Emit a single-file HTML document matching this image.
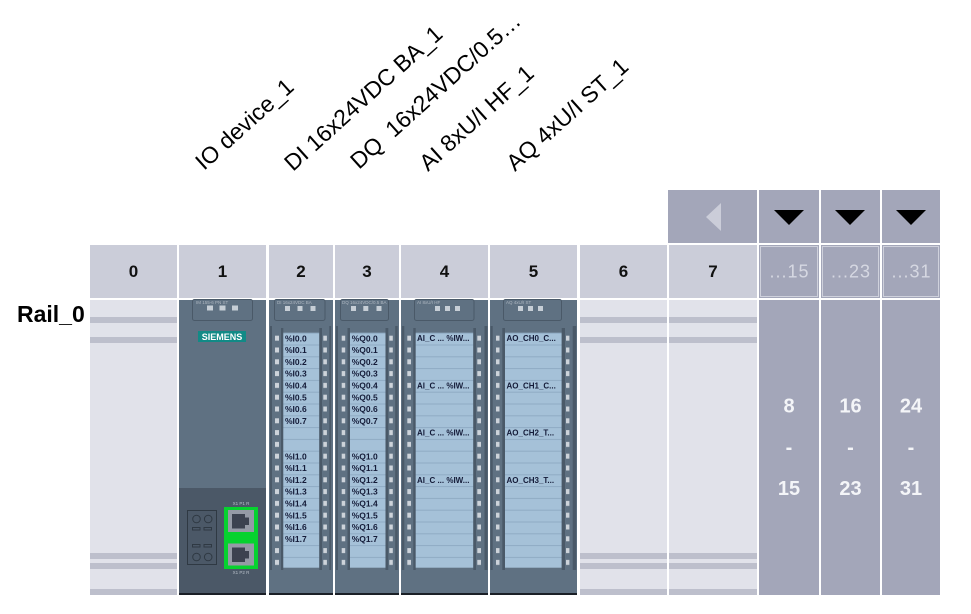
<!DOCTYPE html>
<html><head><meta charset="utf-8">
<style>
*{margin:0;padding:0}
html,body{width:971px;height:614px;background:#fff;overflow:hidden}
svg{display:block}
</style></head>
<body>
<svg xmlns="http://www.w3.org/2000/svg" width="971" height="614" viewBox="0 0 971 614" font-family="'Liberation Sans', sans-serif">
<defs>
<pattern id="led" x="0" y="332.7" width="10" height="11.8" patternUnits="userSpaceOnUse"><rect x="0" y="3" width="10" height="5" fill="#cdd3da"/></pattern>
<pattern id="row" x="0" y="332.7" width="10" height="11.8" patternUnits="userSpaceOnUse"><rect width="10" height="11.8" fill="#a5c1d8"/><rect width="10" height="1" fill="#8fabc4"/></pattern>
</defs>
<rect width="971" height="614" fill="#fff"/>

<!-- rotated labels -->
<g font-size="23" fill="#000">
<text transform="translate(204,171) rotate(-42)">IO device_1</text>
<text transform="translate(293,172) rotate(-42)">DI 16x24VDC BA_1</text>
<text transform="translate(359,170) rotate(-42)" xml:space="preserve">DQ  16x24VDC/0.5…</text>
<text transform="translate(428,172) rotate(-42)">AI 8xU/I HF_1</text>
<text transform="translate(515,172) rotate(-42)">AQ 4xU/I ST_1</text>
</g>

<!-- top row -->
<rect x="668" y="190" width="89" height="53" fill="#a3a6b9"/>
<polygon points="706,217 721,203 721,231" fill="#cbcdd9"/>
<rect x="759" y="190" width="60" height="53" fill="#a3a6b9"/>
<rect x="821" y="190" width="59" height="53" fill="#a3a6b9"/>
<rect x="882" y="190" width="58" height="53" fill="#a3a6b9"/>
<polygon points="774,210 804,210 789,225" fill="#000"/>
<polygon points="835,210 865,210 850,225" fill="#000"/>
<polygon points="896,210 926,210 911,225" fill="#000"/>

<!-- header row -->
<g fill="#cbcdd9">
<rect x="90" y="245" width="87" height="53"/>
<rect x="179" y="245" width="87" height="53"/>
<rect x="269" y="245" width="64" height="53"/>
<rect x="335" y="245" width="64" height="53"/>
<rect x="401" y="245" width="87" height="53"/>
<rect x="490" y="245" width="87" height="53"/>
<rect x="580" y="245" width="87" height="53"/>
<rect x="669" y="245" width="88" height="53"/>
</g>
<g font-size="17" font-weight="bold" fill="#111" text-anchor="middle">
<text x="133.5" y="277">0</text>
<text x="222.5" y="277">1</text>
<text x="301" y="277">2</text>
<text x="367" y="277">3</text>
<text x="444.5" y="277">4</text>
<text x="533.5" y="277">5</text>
<text x="623.5" y="277">6</text>
<text x="713" y="277">7</text>
</g>
<g fill="#a3a6b9">
<rect x="759" y="245" width="60" height="53"/>
<rect x="821" y="245" width="59" height="53"/>
<rect x="882" y="245" width="58" height="53"/>
</g>
<g fill="none" stroke="#cfd1dc" stroke-width="1">
<rect x="760.5" y="246.5" width="57" height="50"/>
<rect x="822.5" y="246.5" width="56" height="50"/>
<rect x="883.5" y="246.5" width="55" height="50"/>
</g>
<g font-size="18" fill="#d6d8e2" text-anchor="middle" letter-spacing="1">
<text x="789.5" y="277.5">...15</text>
<text x="851" y="277.5">...23</text>
<text x="911.5" y="277.5">...31</text>
</g>

<!-- Rail label -->
<text x="17" y="322" font-size="23" font-weight="bold" fill="#000">Rail_0</text>

<!-- empty slots -->
<g>
<rect x="90" y="300" width="87" height="295" fill="#e1e2ea"/>
<rect x="580" y="300" width="87" height="295" fill="#e1e2ea"/>
<rect x="669" y="300" width="88" height="295" fill="#e1e2ea"/>
</g>
<g fill="#bdbfcc">
<rect x="90" y="317" width="87" height="6"/><rect x="90" y="337" width="87" height="6"/>
<rect x="90" y="553" width="87" height="6"/><rect x="90" y="563" width="87" height="6"/><rect x="90" y="589" width="87" height="6"/>
<rect x="580" y="317" width="87" height="6"/><rect x="580" y="337" width="87" height="6"/>
<rect x="580" y="553" width="87" height="6"/><rect x="580" y="563" width="87" height="6"/><rect x="580" y="589" width="87" height="6"/>
<rect x="669" y="317" width="88" height="6"/><rect x="669" y="337" width="88" height="6"/>
<rect x="669" y="553" width="88" height="6"/><rect x="669" y="563" width="88" height="6"/><rect x="669" y="589" width="88" height="6"/>
</g>

<!-- right gray columns -->
<g fill="#a3a6b9">
<rect x="759" y="300" width="60" height="295"/>
<rect x="821" y="300" width="59" height="295"/>
<rect x="882" y="300" width="58" height="295"/>
</g>
<g font-size="20" font-weight="bold" fill="#f4f5f8" text-anchor="middle">
<text x="789" y="412.5">8</text><text x="789" y="454">-</text><text x="789" y="495">15</text>
<text x="850.5" y="412.5">16</text><text x="850.5" y="454">-</text><text x="850.5" y="495">23</text>
<text x="911" y="412.5">24</text><text x="911" y="454">-</text><text x="911" y="495">31</text>
</g>

<!-- Module 1 : IO device -->
<rect x="179" y="300" width="87" height="295" fill="#5f7182"/>
<rect x="179" y="488" width="87" height="107" fill="#4b5867"/>
<rect x="192.5" y="299.5" width="60" height="21" rx="2" fill="none" stroke="#4a5968"/>
<text x="196" y="304" font-size="4.5" fill="#aeb7c1">IM 155-6 PN ST</text>
<rect x="207" y="305.5" width="6" height="5" fill="#c6ced6"/>
<rect x="219.5" y="305.5" width="6" height="5" fill="#c6ced6"/>
<rect x="232" y="305.5" width="6" height="5" fill="#c6ced6"/>
<rect x="198" y="331" width="48" height="11" fill="#128a86"/>
<text x="222" y="340" font-size="9" font-weight="bold" fill="#fff" text-anchor="middle">SIEMENS</text>
<g fill="none" stroke="#2f3943" stroke-width="1">
<rect x="187.5" y="510.5" width="29" height="54"/>
<circle cx="196.5" cy="519" r="3.8"/><circle cx="208.2" cy="519" r="3.8"/>
<rect x="192.5" y="527.5" width="7.5" height="2.5"/><rect x="204" y="527.5" width="7.5" height="2.5"/>
<rect x="192.5" y="544.5" width="7.5" height="2.5"/><rect x="204" y="544.5" width="7.5" height="2.5"/>
<circle cx="196.5" cy="557" r="3.8"/><circle cx="208.2" cy="557" r="3.8"/>
</g>
<rect x="224" y="507" width="34" height="62" fill="#06d22f"/>
<rect x="228" y="510" width="26" height="22" fill="#959aa6"/>
<rect x="228" y="543.5" width="26" height="22" fill="#959aa6"/>
<path d="M232,514 h13 v3.5 h4 v7.5 h-4 v3.5 h-13 z" fill="#3c4250"/>
<path d="M232,547.5 h13 v3.5 h4 v7.5 h-4 v3.5 h-13 z" fill="#3c4250"/>
<text x="241" y="505" font-size="4.5" fill="#b8c0ca" text-anchor="middle">X1 P1 R</text>
<text x="241" y="574" font-size="4.5" fill="#b8c0ca" text-anchor="middle">X1 P2 R</text>
<rect x="179" y="593" width="87" height="2" fill="#1a1f26"/>

<!-- Module 2 : DI -->
<rect x="269" y="300" width="64" height="295" fill="#5f7182"/>
<rect x="274.5" y="299.5" width="50.5" height="21" rx="2" fill="none" stroke="#4a5968"/>
<text x="277" y="304" font-size="4.5" fill="#aeb7c1">DI 16x24VDC BA</text>
<rect x="285" y="306" width="5" height="5" fill="#c6ced6"/><rect x="297.5" y="306" width="5" height="5" fill="#c6ced6"/><rect x="310.5" y="306" width="5" height="5" fill="#c6ced6"/>
<rect x="270" y="326" width="2" height="244" fill="#4a5968"/>
<rect x="275" y="332.7" width="4" height="235.3" fill="url(#led)"/>
<rect x="281" y="328" width="2.3" height="242" fill="#4a5968"/>
<rect x="283.3" y="332.7" width="36" height="235" fill="url(#row)"/>
<rect x="319.3" y="328" width="2.7" height="242" fill="#4a5968"/>
<rect x="323.3" y="332.7" width="3.6" height="235.3" fill="url(#led)"/>
<rect x="329.3" y="326" width="1.8" height="244" fill="#4a5968"/>
<rect x="269" y="593" width="64" height="2" fill="#1a1f26"/>

<!-- Module 3 : DQ -->
<rect x="335" y="300" width="64" height="295" fill="#5f7182"/>
<rect x="340.5" y="299.5" width="48" height="21" rx="2" fill="none" stroke="#4a5968"/>
<text x="342" y="304" font-size="4.5" fill="#aeb7c1">DQ 16x24VDC/0.5 BA</text>
<rect x="351" y="306" width="5" height="5" fill="#c6ced6"/><rect x="363.3" y="306" width="5" height="5" fill="#c6ced6"/><rect x="376.5" y="306" width="5" height="5" fill="#c6ced6"/>
<rect x="336" y="326" width="2" height="244" fill="#4a5968"/>
<rect x="341.7" y="332.7" width="3.5" height="235.3" fill="url(#led)"/>
<rect x="347.5" y="328" width="2.5" height="242" fill="#4a5968"/>
<rect x="350" y="332.7" width="35.5" height="235" fill="url(#row)"/>
<rect x="385.5" y="328" width="2.8" height="242" fill="#4a5968"/>
<rect x="389.3" y="332.7" width="3.5" height="235.3" fill="url(#led)"/>
<rect x="395.2" y="326" width="2.5" height="244" fill="#4a5968"/>
<rect x="335" y="593" width="64" height="2" fill="#1a1f26"/>

<!-- Module 4 : AI -->
<rect x="401" y="300" width="87" height="295" fill="#5f7182"/>
<rect x="414.5" y="299.5" width="59.5" height="21" rx="2" fill="none" stroke="#4a5968"/>
<text x="417" y="304" font-size="4.5" fill="#aeb7c1">AI 8xU/I HF</text>
<rect x="435" y="306" width="5" height="5" fill="#c6ced6"/><rect x="445" y="306" width="5" height="5" fill="#c6ced6"/><rect x="455" y="306" width="5" height="5" fill="#c6ced6"/>
<rect x="402" y="326" width="2.3" height="244" fill="#4a5968"/>
<rect x="407.3" y="332.7" width="3.7" height="235.3" fill="url(#led)"/>
<rect x="413.3" y="328" width="2.4" height="242" fill="#4a5968"/>
<rect x="415.7" y="332.7" width="57.6" height="235" fill="url(#row)"/>
<rect x="473.3" y="328" width="2.7" height="242" fill="#4a5968"/>
<rect x="477.3" y="332.7" width="3.7" height="235.3" fill="url(#led)"/>
<rect x="484.5" y="326" width="3" height="244" fill="#4a5968"/>
<rect x="401" y="593" width="87" height="2" fill="#1a1f26"/>

<!-- Module 5 : AQ -->
<rect x="490" y="300" width="87" height="295" fill="#5f7182"/>
<rect x="503.5" y="299.5" width="58" height="21" rx="2" fill="none" stroke="#4a5968"/>
<text x="506" y="304" font-size="4.5" fill="#aeb7c1">AQ 4xU/I ST</text>
<rect x="518" y="306" width="5" height="5" fill="#c6ced6"/><rect x="528" y="306" width="5" height="5" fill="#c6ced6"/><rect x="538" y="306" width="5" height="5" fill="#c6ced6"/>
<rect x="490.5" y="326" width="2.2" height="244" fill="#4a5968"/>
<rect x="496" y="332.7" width="3.5" height="235.3" fill="url(#led)"/>
<rect x="502.3" y="328" width="2.7" height="242" fill="#4a5968"/>
<rect x="505" y="332.7" width="56.7" height="235" fill="url(#row)"/>
<rect x="561.7" y="328" width="3.3" height="242" fill="#4a5968"/>
<rect x="566" y="332.7" width="3.4" height="235.3" fill="url(#led)"/>
<rect x="572.7" y="326" width="3.5" height="244" fill="#4a5968"/>
<rect x="490" y="593" width="87" height="2" fill="#1a1f26"/>

<!-- strip texts -->
<g font-size="8.5" font-weight="bold" fill="#141b38">
<text x="285" y="341.3">%I0.0</text>
<text x="285" y="353.1">%I0.1</text>
<text x="285" y="364.9">%I0.2</text>
<text x="285" y="376.7">%I0.3</text>
<text x="285" y="388.5">%I0.4</text>
<text x="285" y="400.3">%I0.5</text>
<text x="285" y="412.1">%I0.6</text>
<text x="285" y="423.9">%I0.7</text>
<text x="285" y="459.3">%I1.0</text>
<text x="285" y="471.1">%I1.1</text>
<text x="285" y="482.9">%I1.2</text>
<text x="285" y="494.7">%I1.3</text>
<text x="285" y="506.5">%I1.4</text>
<text x="285" y="518.3">%I1.5</text>
<text x="285" y="530.1">%I1.6</text>
<text x="285" y="541.9">%I1.7</text>

<text x="351.7" y="341.3">%Q0.0</text>
<text x="351.7" y="353.1">%Q0.1</text>
<text x="351.7" y="364.9">%Q0.2</text>
<text x="351.7" y="376.7">%Q0.3</text>
<text x="351.7" y="388.5">%Q0.4</text>
<text x="351.7" y="400.3">%Q0.5</text>
<text x="351.7" y="412.1">%Q0.6</text>
<text x="351.7" y="423.9">%Q0.7</text>
<text x="351.7" y="459.3">%Q1.0</text>
<text x="351.7" y="471.1">%Q1.1</text>
<text x="351.7" y="482.9">%Q1.2</text>
<text x="351.7" y="494.7">%Q1.3</text>
<text x="351.7" y="506.5">%Q1.4</text>
<text x="351.7" y="518.3">%Q1.5</text>
<text x="351.7" y="530.1">%Q1.6</text>
<text x="351.7" y="541.9">%Q1.7</text>
</g>
<g font-size="8" font-weight="bold" fill="#141b38">
<text x="417" y="341.2">AI_C ... %IW...</text>
<text x="417" y="388.4">AI_C ... %IW...</text>
<text x="417" y="435.6">AI_C ... %IW...</text>
<text x="417" y="482.8">AI_C ... %IW...</text>
<text x="506.5" y="341.2">AO_CH0_C...</text>
<text x="506.5" y="388.4">AO_CH1_C...</text>
<text x="506.5" y="435.6">AO_CH2_T...</text>
<text x="506.5" y="482.8">AO_CH3_T...</text>
</g>
</svg>
</body></html>
